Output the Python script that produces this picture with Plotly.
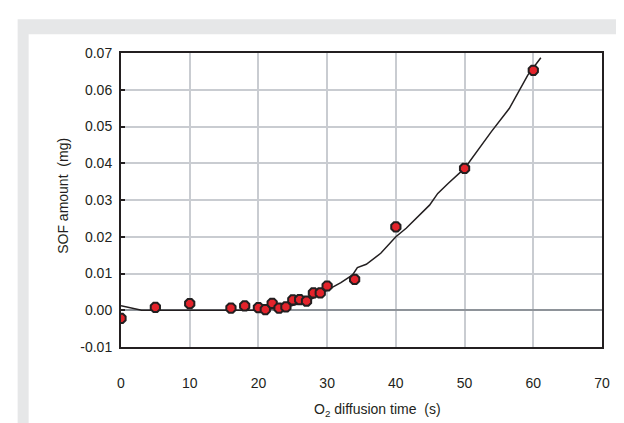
import plotly.graph_objects as go

# measured data (O2 diffusion time in s, SOF amount in mg)
time_s = [0, 5, 10, 16, 18, 20, 21, 22, 23, 24, 25, 26, 27, 28, 29, 30, 34, 40, 50, 60]
sof_mg = [-0.0022, 0.0008, 0.0018, 0.0006, 0.0012, 0.0007, 0.0002, 0.0019, 0.0006, 0.0009,
          0.0028, 0.0029, 0.0025, 0.0047, 0.0047, 0.0066, 0.0084, 0.0227, 0.0386, 0.0653]
sof_err = [0.0008, 0.0003, 0.0008, 0.0003, 0.0003, 0.0003, 0.0003, 0.0005, 0.0003, 0.0003,
           0.0004, 0.0004, 0.0004, 0.0003, 0.0003, 0.0004, 0.0008, 0.0004, 0.0004, 0.0003]

# fitted / model curve
curve_t = [0, 3, 20, 22, 24, 26, 28, 30, 32, 33.7, 34.4, 35.7, 37.8, 40, 41.5, 44.9,
           46.1, 47.6, 50, 53.9, 56.5, 59.2, 61.1]
curve_y = [0.0012, 0.0, 0.0, 0.0003, 0.0008, 0.0018, 0.0033, 0.0055, 0.0075, 0.0096, 0.0116,
           0.0125, 0.0155, 0.020, 0.0223, 0.0286, 0.0318, 0.0345, 0.0386, 0.0486, 0.0549,
           0.064, 0.0687]

y_tickvals = [-0.01, 0.0, 0.01, 0.02, 0.03, 0.04, 0.05, 0.06, 0.07]
y_ticktext = ["-0.01", "0.00", "0.01", "0.02", "0.03", "0.04", "0.05", "0.06", "0.07"]
x_tickvals = [0, 10, 20, 30, 40, 50, 60, 70]

W, H = 624, 423
L, R, T, B = 113.3, 594.0, 44.7, 339.0  # plot area in pixels
pw, ph = R - L, B - T


def px(x):
    return (x - L) / pw


def py(y):
    return (B - y) / ph


DARK = "#231f20"
fig = go.Figure()

fig.add_trace(go.Scatter(x=curve_t, y=curve_y, mode="lines",
                         line=dict(color=DARK, width=1.5), showlegend=False,
                         hoverinfo="skip"))
fig.add_trace(go.Scatter(x=time_s, y=sof_mg, mode="markers",
                         marker=dict(symbol="octagon", size=10, color="#e3232b",
                                     line=dict(color=DARK, width=2)),
                         error_y=dict(type="data", array=sof_err, color=DARK,
                                      thickness=3, width=0),
                         showlegend=False))

shapes = [
    dict(type="rect", xref="paper", yref="paper", x0=px(10), x1=px(623), y0=py(423),
         y1=py(11), fillcolor="#e6e7e8", line=dict(width=0), layer="below"),
    dict(type="rect", xref="paper", yref="paper", x0=px(21), x1=px(622), y0=py(417),
         y1=py(26), fillcolor="white", line=dict(width=0), layer="below"),
]

annotations = [
    dict(text="O<sub>2</sub> diffusion time  (s)", xref="paper", yref="paper",
         x=px(370), y=py(402), showarrow=False, xanchor="center", yanchor="middle",
         font=dict(size=14, color=DARK)),
    dict(text="SOF amount  (mg)", xref="paper", yref="paper", x=px(55), y=py(188),
         showarrow=False, textangle=-90, xanchor="center", yanchor="middle",
         font=dict(size=14, color=DARK)),
]

fig.update_layout(
    width=W, height=H,
    margin=dict(l=L, r=W - R, t=T, b=H - B, pad=0),
    paper_bgcolor="white", plot_bgcolor="rgba(0,0,0,0)",
    font=dict(family="Liberation Sans, Arial, sans-serif", size=14, color=DARK),
    shapes=shapes, annotations=annotations,
    xaxis=dict(range=[0, 70], tickvals=x_tickvals, showgrid=True, gridcolor="#c9ccd1",
               gridwidth=2, zeroline=False, showline=True, linecolor=DARK, linewidth=2,
               mirror=True, ticks="", ticklabelstandoff=22, tickfont=dict(size=14)),
    yaxis=dict(range=[-0.01, 0.07], tickvals=y_tickvals, ticktext=y_ticktext,
               showgrid=True, gridcolor="#c9ccd1", gridwidth=2, zeroline=True,
               zerolinecolor="#8e9399", zerolinewidth=2, showline=True, linecolor=DARK,
               linewidth=2, mirror=True, ticks="inside", ticklen=4, tickwidth=2,
               tickcolor=DARK, ticklabelstandoff=4, tickfont=dict(size=14)),
)

fig.write_html("out.html")
